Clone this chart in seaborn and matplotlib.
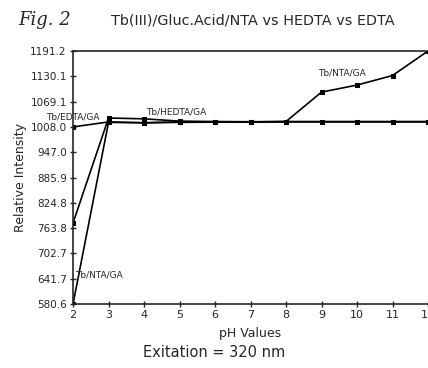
import seaborn as sns
import matplotlib.pyplot as plt
import pandas as pd
import numpy as np

# pH values and relative intensities
ph = [2, 3, 4, 5, 6, 7, 8, 9, 10, 11, 12]
nta_ga = [580.6, 1019.0, 1018.0, 1020.0, 1020.0, 1020.0, 1021.0, 1092.0, 1109.0, 1132.0, 1191.2]
hedta_ga = [776.0, 1029.5, 1027.5, 1022.0, 1021.0, 1020.5, 1021.0, 1021.0, 1021.0, 1021.0, 1021.0]
edta_ga = [1008.0, 1020.0, 1018.0, 1019.0, 1019.5, 1019.5, 1020.0, 1020.0, 1020.0, 1020.0, 1020.0]
series_names = ['Tb/NTA/GA', 'Tb/HEDTA/GA', 'Tb/EDTA/GA']

y_ticks = [580.6, 641.7, 702.7, 763.8, 824.8, 885.9, 947.0, 1008.0, 1069.1, 1130.1, 1191.2]
x_ticks = list(range(2, 13))

# long format for seaborn
rows = []
for name, vals in zip(series_names, [nta_ga, hedta_ga, edta_ga]):
    for p, v in zip(ph, vals):
        rows.append({'pH': p, 'Intensity': v, 'Series': name})
df = pd.DataFrame(rows)

sns.set_style("ticks")
plt.rcParams['font.family'] = ['DejaVu Sans']

fig = plt.figure(figsize=(4.28, 3.68), dpi=100)
ax = fig.add_axes([0.1706, 0.1739, 0.8294, 0.6875])

sns.lineplot(data=df, x='pH', y='Intensity', hue='Series',
             palette=['black', 'black', 'black'], marker='s', markersize=3.5,
             markeredgecolor='black', linewidth=1.2, legend=False, ax=ax)

ax.set_xlim(2, 12)
ax.set_ylim(580.6, 1191.2)
ax.set_xticks(x_ticks)
ax.set_xticklabels([str(t) for t in x_ticks], fontsize=8)
ax.set_yticks(y_ticks)
ax.set_yticklabels([f'{t:.1f}' for t in y_ticks], fontsize=7.5)
ax.tick_params(direction='inout', length=5, width=1, pad=2)

for side in ['left', 'bottom', 'top']:
    ax.spines[side].set_linewidth(1.2)
ax.spines['right'].set_visible(False)

ax.set_xlabel('pH Values', fontsize=9, labelpad=5)
ax.set_ylabel('Relative Intensity', fontsize=9, labelpad=2)

# series labels placed near their curves
ax.text(2.07, 650, 'Tb/NTA/GA', fontsize=6.5, ha='left', va='center')
ax.text(1.25, 1033, 'Tb/EDTA/GA', fontsize=6.5, ha='left', va='center', clip_on=False)
ax.text(4.05, 1044, 'Tb/HEDTA/GA', fontsize=6.5, ha='left', va='center')
ax.text(8.9, 1137, 'Tb/NTA/GA', fontsize=6.5, ha='left', va='center')

fig.text(0.042, 0.945, 'Fig. 2', fontsize=13, style='italic',
         family=['DejaVu Serif'], ha='left', va='center')
fig.text(0.59, 0.945, 'Tb(III)/Gluc.Acid/NTA vs HEDTA vs EDTA', fontsize=10.4,
         ha='center', va='center')
fig.text(0.5, 0.043, 'Exitation = 320 nm', fontsize=10.5, ha='center', va='center')

plt.savefig('out.png', dpi=100)
